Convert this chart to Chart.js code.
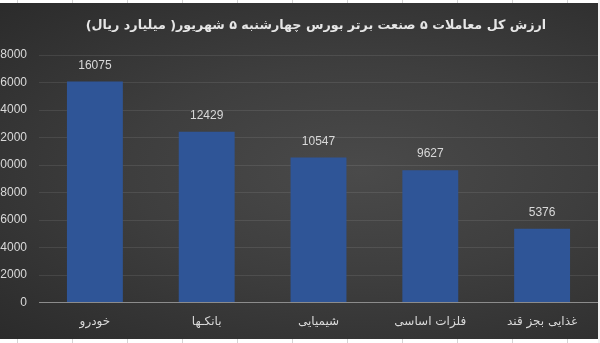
<!DOCTYPE html>
<html>
<head>
<meta charset="utf-8">
<script src="https://cdn.jsdelivr.net/npm/chart.js@4/dist/chart.umd.min.js"></script>
<style>
   html, body { margin: 0; padding: 0; width: 600px; height: 343px; overflow: hidden; background: #fff; }
   .sheet {
      position: absolute; left: 0; top: 0; width: 600px; height: 343px;
      background: repeating-linear-gradient(90deg, transparent 0 17px, #d4d4d4 17px 18px, transparent 18px 55px);
   }
   .bg {
      position: absolute; left: 0; top: 3px; width: 598px; height: 336px;
      background: radial-gradient(ellipse at 60% 50%, #4a4a4a 0%, #3e3e3e 45%, #2b2b2b 100%);
   }
   .box {
      position: absolute; left: -50px; top: 3px; width: 648px; height: 336px;
   }
   .edge { position: absolute; left: 598px; top: 0; width: 2px; height: 343px; background: #f2f2f2; }
</style>
</head>
<body>
<div class="sheet"></div>
<div class="bg"></div>
<div class="box"><canvas id="myChart"></canvas></div>
<div class="edge"></div>
<script>
// ============  data  ============
const categories = ['خودرو', 'بانکـها', 'شیمیایی', 'فلزات اساسی', 'غذایی بجز قند'];
const values = [16075, 12429, 10547, 9627, 5376];
const yTicks = [0, 2000, 4000, 6000, 8000, 10000, 12000, 14000, 16000, 18000];
const chartTitle = 'ارزش کل معاملات ۵ صنعت برتر بورس چهارشنبه ۵ شهریور( میلیارد ریال)';

Chart.defaults.font.family = "'DejaVu Sans', 'Liberation Sans', sans-serif";
Chart.defaults.font.size = 11;
Chart.defaults.color = '#d9d9d9';

// labels above bars + title (excel puts the title a bit right of centre)
const barLabels = {
   id: 'barLabels',
   afterDatasetsDraw(chart) {
      const c = chart.ctx;
      const meta = chart.getDatasetMeta(0);
      c.save();
      c.font = "12px 'Liberation Sans', sans-serif";
      c.fillStyle = '#d9d9d9';
      c.textAlign = 'center';
      c.textBaseline = 'middle';
      meta.data.forEach((bar, i) => {
         c.fillText(values[i], bar.x, bar.y - 16);
      });
      c.font = "bold 12.7px 'DejaVu Sans', sans-serif";
      c.fillStyle = '#e6e6e6';
      c.fillText(chartTitle, 366, 23);
      c.restore();
   }
};

let ctx = document.getElementById('myChart').getContext('2d');
ctx.canvas.parentNode.style.height = '336px';
let myChart = new Chart(ctx, {
   type: 'bar',
   data: {
      labels: categories,
      datasets: [{
         data: values,
         backgroundColor: '#2f5597',
         borderWidth: 0,
         categoryPercentage: 1,
         barPercentage: 0.5,
      }],
   },
   options: {
      responsive: true,
      maintainAspectRatio: false,
      animation: false,
      layout: { padding: { top: 52, right: 0, left: 0, bottom: -2 } },
      scales: {
         x: {
            grid: { display: false, drawTicks: false },
            border: { display: true, color: '#8c8c8c', width: 1 },
            ticks: { padding: 12, font: { size: 12 }, color: '#d9d9d9' },
         },
         y: {
            min: 0,
            max: 18000,
            afterBuildTicks: (scale) => { scale.ticks = yTicks.map(v => ({ value: v })); },
            afterFit: (scale) => { scale.width = 89; },
            grid: { color: 'rgba(255,255,255,0.09)', drawTicks: false },
            border: { display: false },
            ticks: {
               padding: 12,
               font: { family: "'Liberation Sans', sans-serif", size: 12 },
               color: '#d9d9d9',
               callback: (v) => String(v),
            },
         },
      },
      plugins: {
         legend: { display: false },
         tooltip: { enabled: false },
         title: { display: false },
      },
   },
   plugins: [barLabels],
});
</script>
</body>
</html>
